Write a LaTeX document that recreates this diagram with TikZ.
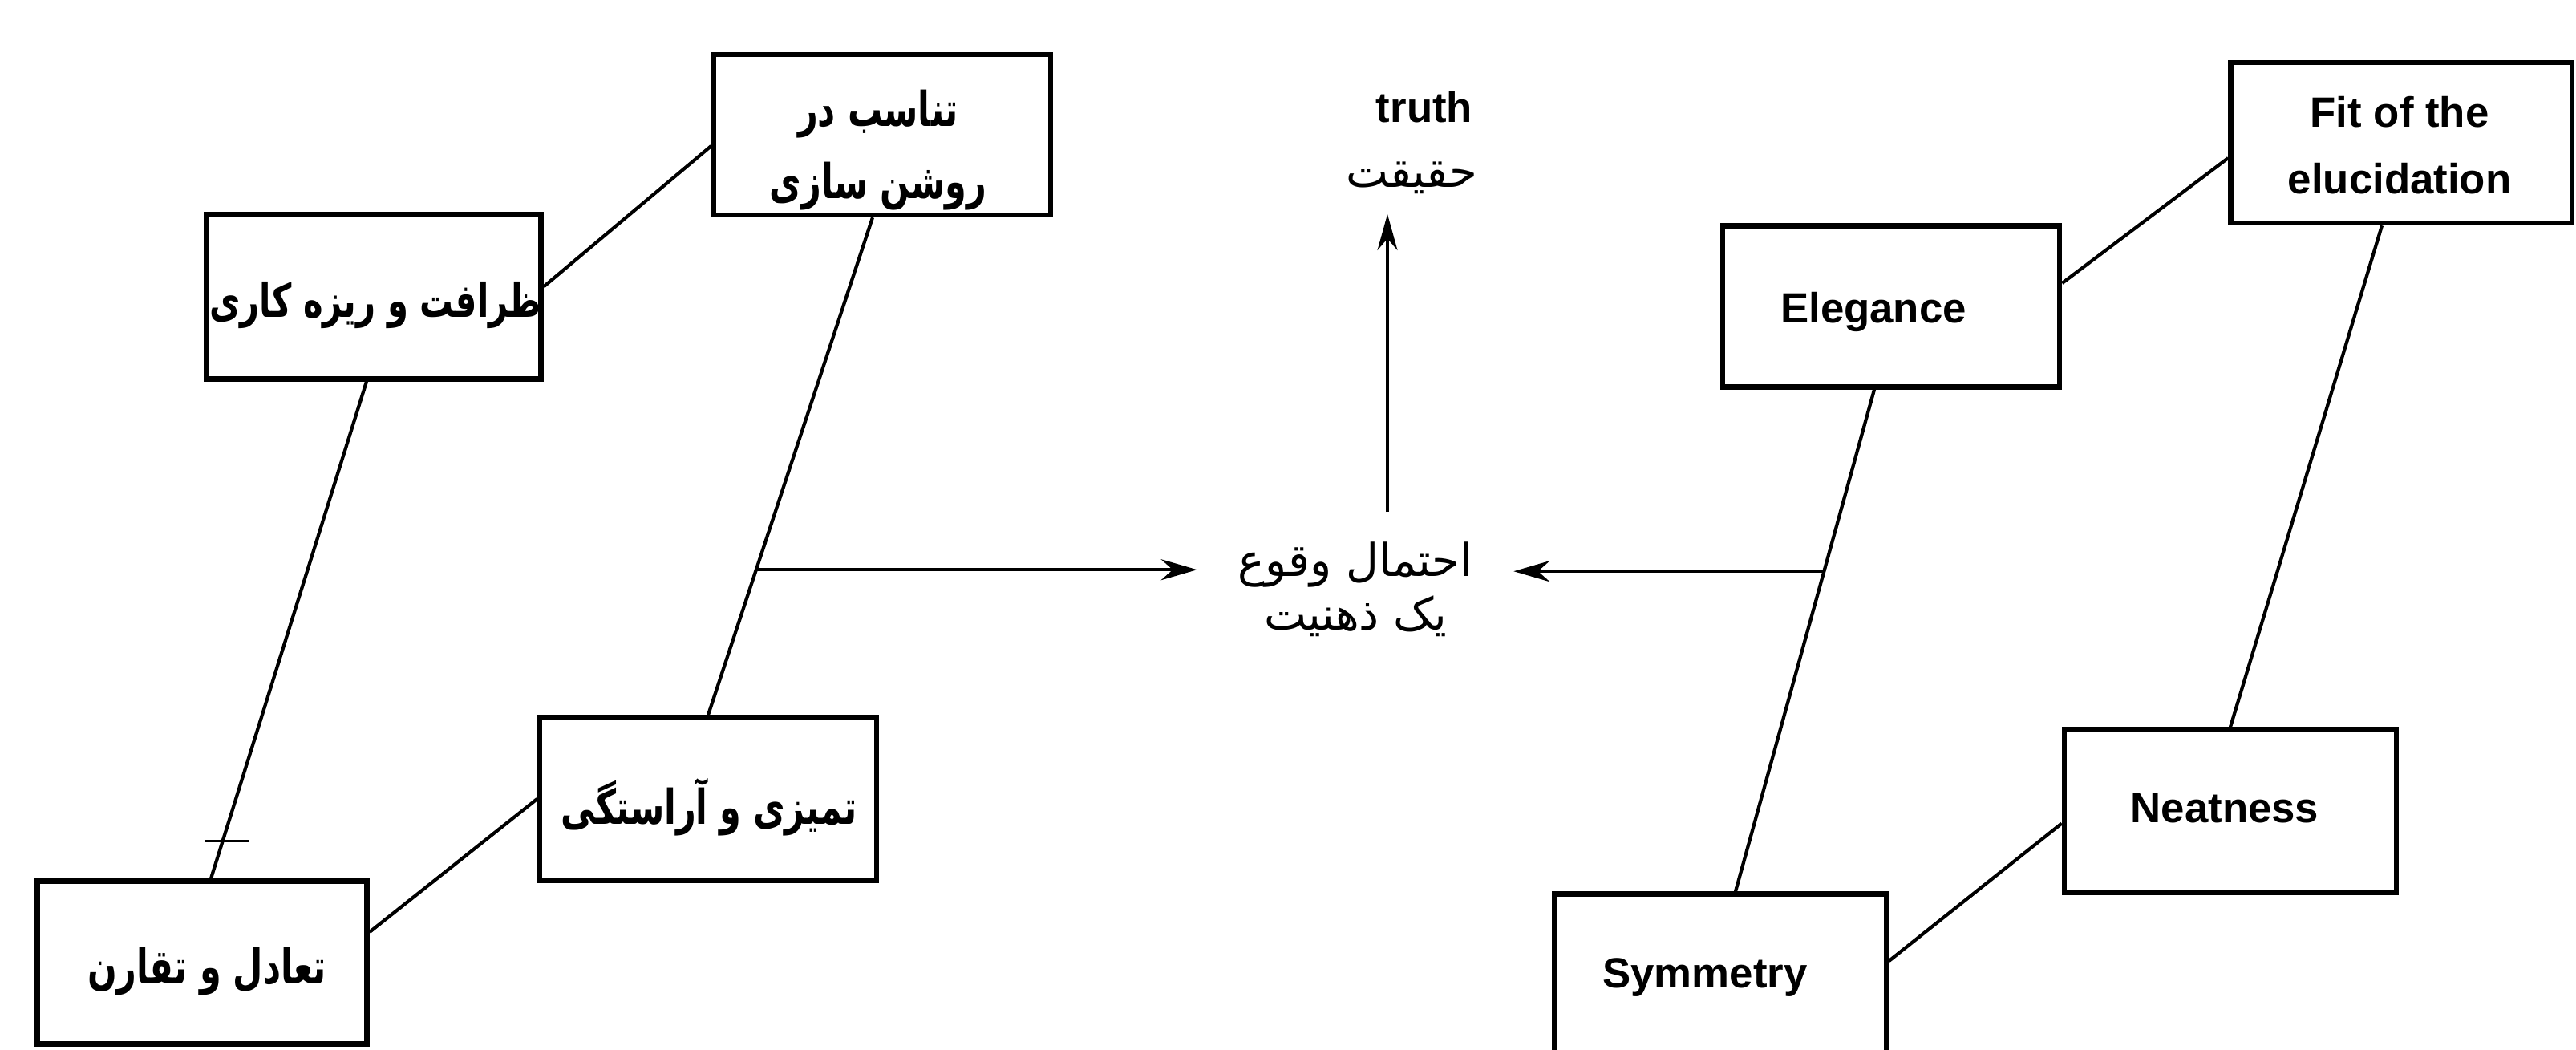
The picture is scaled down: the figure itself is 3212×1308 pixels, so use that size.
\documentclass[tikz,border=0pt]{standalone}
\usepackage{fontspec}
\setmainfont{Liberation Sans}
\newfontfamily\fa[Script=Arabic]{DejaVu Sans}
\newfontfamily\fan[Script=Arabic,FakeStretch=0.72]{DejaVu Sans}
\TeXXeTstate=1
\usetikzlibrary{arrows.meta,calc}
\newcommand{\fab}[1]{{\fan\bfseries\beginR #1\endR}}
\newcommand{\far}[1]{{\fa\beginR #1\endR}}
\begin{document}
\begin{tikzpicture}[x=0.01cm,y=-0.01cm,
  box/.style={draw,line width=1.8pt,inner sep=0pt,minimum width=4.2cm,minimum height=2.03cm},
  fatxt/.style={inner sep=0pt,align=center,font=\fontsize{17}{25.6}\selectfont},
  entxt/.style={inner sep=0pt,align=center,font=\fontsize{15}{23.8}\selectfont\bfseries},
  conn/.style={line width=1.2pt},
  arr/.style={line width=1.1pt,-{Stealth[length=0.45cm,width=0.26cm]}}]
\clip (0,0) rectangle (3212,1308);
\fill[white] (0,0) rectangle (3212,1308);
% left boxes
\node[box,minimum height=2.0cm] (tanasob) at (1100,168) {};
\node[box,minimum width=4.17cm,minimum height=2.05cm] (zarafat) at (466,370) {};
\node[box] (tamizi) at (883,996) {};
\node[box,minimum width=4.11cm] (taadol) at (252,1200) {};
\node[fatxt] (tanasobT) at (1095,187) {\fab{تناسب در}\\\fab{روشن سازی}};
\node[fatxt,font=\fontsize{16.5}{24}\selectfont] (zarafatT) at (468,381) {\fab{ظرافت و ریزه کاری}};
\node[fatxt] (tamiziT) at (884,1006) {\fab{تمیزی و آراستگی}};
\node[fatxt] (taadolT) at (258,1211) {\fab{تعادل و تقارن}};
% right boxes
\node[box,minimum width=4.25cm,minimum height=2.0cm] (fit) at (2994,178) {};
\node[box,minimum height=2.01cm] (elegance) at (2358,382) {};
\node[box,minimum width=4.14cm] (neatness) at (2781,1011) {};
\node[box,minimum width=4.14cm] (symmetry) at (2145,1216) {};
\node[entxt] (fitT) at (2992,181) {Fit of the\\elucidation};
\node[entxt] (eleganceT) at (2336,389) {Elegance};
\node[entxt] (neatnessT) at (2774,1008) {Neatness};
\node[entxt] (symmetryT) at (2126,1219) {Symmetry};
% center
\node[align=center,inner sep=0pt,minimum width=3.93cm,font=\fontsize{16}{19}\selectfont] (mid) at (1690,735) {\far{احتمال وقوع}\\\far{یک ذهنیت}};
\node[entxt] (truth) at (1776,134) {truth};
\node[inner sep=0pt,font=\fontsize{16}{19}\selectfont] (haq) at (1760,222) {\far{حقیقت}};
\coordinate (vb) at (1730,638);
\coordinate (vt) at (1730,267);
% left connectors
\draw[conn] ([yshift=-0.14cm]tanasob.west) -- ([yshift=0.125cm]zarafat.east);
\draw[conn] ([xshift=-0.12cm]tanasob.south) -- (tamizi.north) coordinate[pos=0.708] (lj);
\draw[conn] ([xshift=-0.09cm]zarafat.south) -- ([xshift=0.11cm]taadol.north) coordinate[pos=0.925] (tk);
\draw[conn] (tamizi.west) -- ([yshift=0.38cm]taadol.east);
\draw[line width=0.9pt] ([xshift=-0.22cm]tk) -- ([xshift=0.33cm]tk);
% right connectors
\draw[conn] ([yshift=-0.19cm]fit.west) -- ([yshift=0.29cm]elegance.east);
\draw[conn] ([xshift=-0.24cm]fit.south) -- (neatness.north);
\draw[conn] ([xshift=-0.21cm]elegance.south) -- ([xshift=0.19cm]symmetry.north) coordinate[pos=0.362] (rj);
\draw[conn] ([yshift=-0.155cm]neatness.west) -- ([yshift=0.18cm]symmetry.east);
% arrows
\draw[arr] (lj) -- (lj -| mid.west);
\draw[arr] (rj) -- (rj -| mid.east);
\draw[line width=0.9pt,-{Stealth[length=0.45cm,width=0.25cm]}] (vb) -- (vt);
\end{tikzpicture}
\end{document}
